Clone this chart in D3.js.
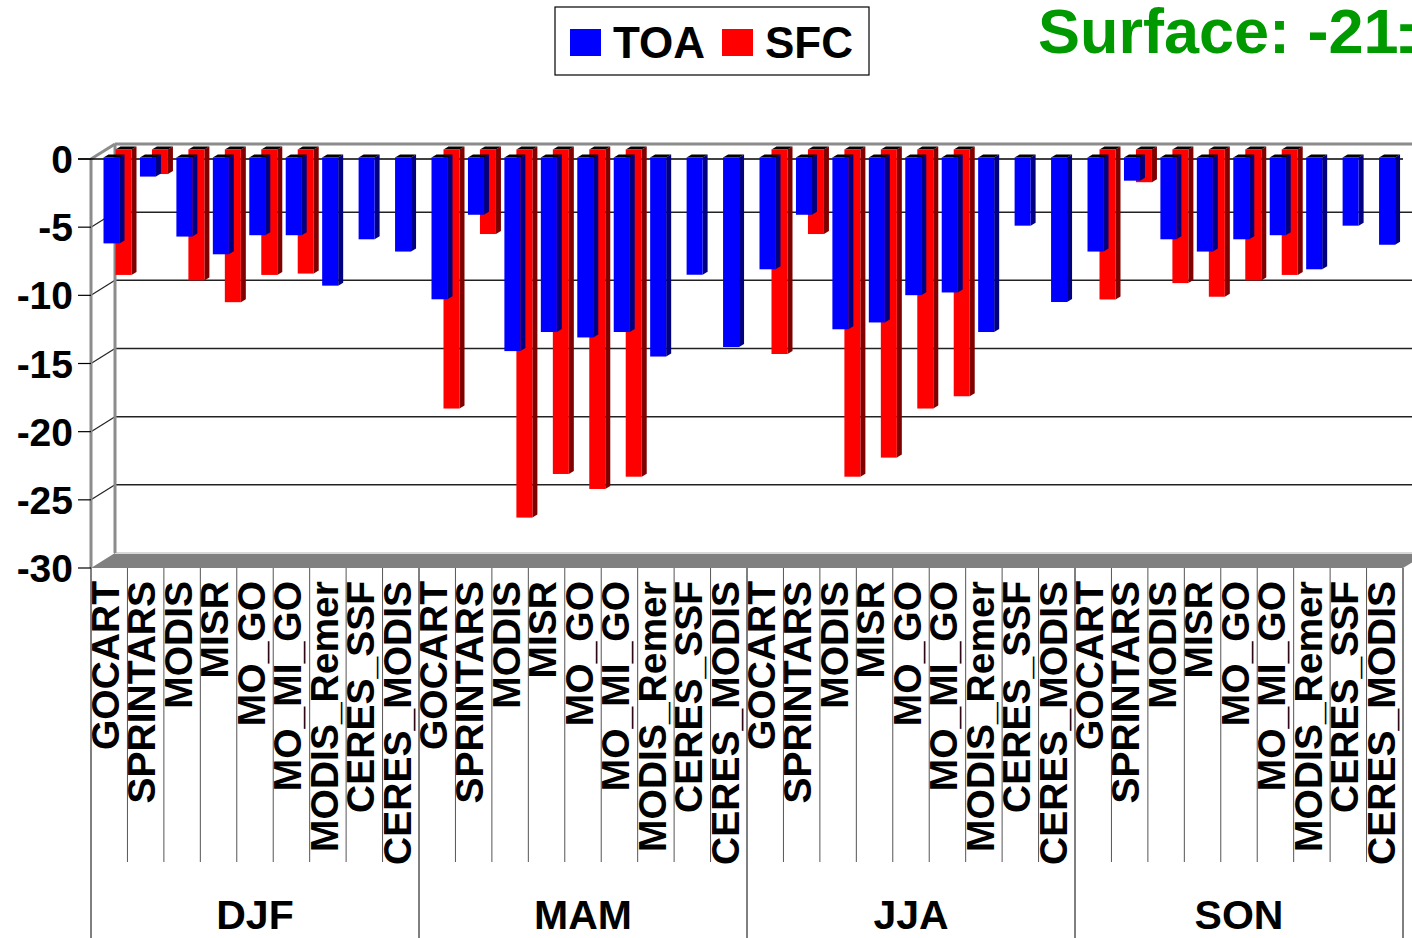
<!DOCTYPE html>
<html>
<head>
<meta charset="utf-8">
<script src="https://cdn.jsdelivr.net/npm/d3@7"></script>
<style>
  body { margin: 0; background: #fff; }
  svg { display: block; font-family: "Liberation Sans", Arial, sans-serif; font-weight: bold; }
</style>
</head>
<body>
<div id="chart"></div>
<script>
// Seasonal aerosol forcing, TOA vs SFC
const seasons = ["DJF", "MAM", "JJA", "SON"];
const models = ["GOCART", "SPRINTARS", "MODIS", "MISR", "MO_GO", "MO_MI_GO", "MODIS_Remer", "CERES_SSF", "CERES_MODIS"];
const yTicks = [0, -5, -10, -15, -20, -25, -30];

// TOA values (9 per season, DJF, MAM, JJA, SON)
const toa = [
  -6.3, -1.4, -5.8, -7.1, -5.7, -5.7, -9.4, -6.0, -6.9,
  -10.4, -4.2, -14.2, -12.8, -13.2, -12.8, -14.6, -8.6, -13.9,
  -8.2, -4.2, -12.6, -12.1, -10.1, -9.9, -12.8, -5.0, -10.6,
  -6.9, -1.7, -6.0, -6.9, -6.0, -5.7, -8.2, -5.0, -6.4
];
// SFC values (null = no surface estimate)
const sfc = [
  -9.2, -1.8, -9.6, -11.2, -9.2, -9.1, null, null, null,
  -19.0, -6.2, -27.0, -23.8, -24.9, -24.0, null, null, null,
  -15.0, -6.2, -24.0, -22.6, -19.0, -18.1, null, null, null,
  -11.0, -2.4, -9.8, -10.8, -9.6, -9.2, null, null, null
];

const W = 1412, H = 938;
const svg = d3.select("#chart").append("svg").attr("width", W).attr("height", H);

// plot geometry (front plane + depth offset for the back wall)
const x0 = 91, x1 = 1403;
const yTop = 159, yBot = 568;
const depthX = 24, depthY = -15;

const keys = [];
seasons.forEach(s => models.forEach(m => keys.push(s + "|" + m)));

const x = d3.scaleBand().domain(keys).range([x0, x1]).padding(0);
const y = d3.scaleLinear().domain([0, -30]).range([yTop, yBot]);

// floor
svg.append("polygon")
  .attr("points", [[x0, yBot], [x1, yBot], [x1 + depthX, yBot + depthY], [x0 + depthX, yBot + depthY]].join(" "))
  .attr("fill", "#808080");
svg.append("line")
  .attr("x1", x0 + depthX).attr("x2", W).attr("y1", yBot + depthY).attr("y2", yBot + depthY)
  .attr("stroke", "#d8d8d8").attr("stroke-width", 2);

// back wall gridlines and left-wall diagonals
yTicks.forEach(t => {
  const yf = y(t), yb = y(t) + depthY;
  if (t !== 0 && t !== -30) {
    svg.append("line")
      .attr("x1", x0 + depthX).attr("x2", W).attr("y1", yb).attr("y2", yb)
      .attr("stroke", "#222").attr("stroke-width", 1.5);
    svg.append("line")
      .attr("x1", x0).attr("x2", x0 + depthX).attr("y1", yf).attr("y2", yb)
      .attr("stroke", "#222").attr("stroke-width", 1.2);
  }
});
// back wall top edge, left wall edges
svg.append("line")
  .attr("x1", x0 + depthX).attr("x2", W).attr("y1", yTop + depthY).attr("y2", yTop + depthY)
  .attr("stroke", "#8c8c8c").attr("stroke-width", 3);
svg.append("line")
  .attr("x1", x0).attr("x2", x0 + depthX).attr("y1", yTop).attr("y2", yTop + depthY)
  .attr("stroke", "#8c8c8c").attr("stroke-width", 3);
svg.append("line")
  .attr("x1", x0 + depthX).attr("x2", x0 + depthX).attr("y1", yTop + depthY).attr("y2", yBot + depthY)
  .attr("stroke", "#8c8c8c").attr("stroke-width", 3);
svg.append("line")
  .attr("x1", x0).attr("x2", x0).attr("y1", yTop).attr("y2", yBot)
  .attr("stroke", "#8c8c8c").attr("stroke-width", 3);

// zero line
svg.append("line")
  .attr("x1", 78).attr("x2", x1).attr("y1", yTop).attr("y2", yTop)
  .attr("stroke", "#000").attr("stroke-width", 1.5);

// y ticks + labels
yTicks.forEach(t => {
  svg.append("line")
    .attr("x1", 78).attr("x2", x0).attr("y1", y(t)).attr("y2", y(t))
    .attr("stroke", "#000").attr("stroke-width", 1.2);
  svg.append("text")
    .attr("x", 73).attr("y", y(t))
    .attr("dy", "0.36em")
    .attr("text-anchor", "end")
    .style("font-size", "39px")
    .text(t);
});

// 3D bars
const bw = 16, bdx = 5, bdy = -3;
function drawBars(vals, offX, baseShift, front, side) {
  const g = svg.append("g");
  vals.forEach((v, i) => {
    if (v === null) return;
    const xl = x(keys[i]) + offX;
    const yt = y(0) + baseShift;
    const yb = y(v) + baseShift;
    // side face
    g.append("polygon")
      .attr("points", [[xl + bw, yt], [xl + bw + bdx, yt + bdy], [xl + bw + bdx, yb + bdy], [xl + bw, yb]].join(" "))
      .attr("fill", side);
    // top face
    g.append("polygon")
      .attr("points", [[xl, yt], [xl + bw, yt], [xl + bw + bdx, yt + bdy], [xl + bdx, yt + bdy]].join(" "))
      .attr("fill", "#000");
    // front face
    g.append("rect")
      .attr("x", xl).attr("y", yt).attr("width", bw).attr("height", yb - yt)
      .attr("fill", front);
  });
}
drawBars(sfc, 24.5, -9.5, "#ff0000", "#800000");
drawBars(toa, 12.5, -1.5, "#0000ff", "#000080");

// category separators
keys.forEach((k, i) => {
  const xs = x(k);
  const isSeason = i % models.length === 0;
  svg.append("line")
    .attr("x1", xs).attr("x2", xs).attr("y1", yBot).attr("y2", isSeason ? H : 862)
    .attr("stroke", isSeason ? "#000" : "#555").attr("stroke-width", 1);
});
svg.append("line")
  .attr("x1", x1).attr("x2", x1).attr("y1", yBot).attr("y2", H)
  .attr("stroke", "#000").attr("stroke-width", 1);

// category labels (rotated)
keys.forEach(k => {
  const xs = x(k) + 28;
  svg.append("text")
    .attr("transform", `translate(${xs},581) rotate(-90)`)
    .attr("text-anchor", "end")
    .style("font-size", "39px")
    .text(k.split("|")[1]);
});

// season labels
seasons.forEach((s, si) => {
  const xa = x(s + "|" + models[0]);
  const xb = si < seasons.length - 1 ? x(seasons[si + 1] + "|" + models[0]) : x1;
  svg.append("text")
    .attr("x", (xa + xb) / 2).attr("y", 929)
    .attr("text-anchor", "middle")
    .style("font-size", "41px")
    .text(s);
});

// legend
const lg = svg.append("g");
lg.append("rect").attr("x", 555).attr("y", 7).attr("width", 314).attr("height", 68)
  .attr("fill", "#fff").attr("stroke", "#000").attr("stroke-width", 1.2);
lg.append("rect").attr("x", 570).attr("y", 29).attr("width", 31).attr("height", 27).attr("fill", "#0000ff");
lg.append("text").attr("x", 613).attr("y", 58).style("font-size", "44px").text("TOA");
lg.append("rect").attr("x", 722).attr("y", 29).attr("width", 31).attr("height", 27).attr("fill", "#ff0000");
lg.append("text").attr("x", 765).attr("y", 58).style("font-size", "44px").text("SFC");

// title (runs past the right edge as in the original)
svg.append("text")
  .attr("x", 1038).attr("y", 53)
  .attr("fill", "#009900")
  .style("font-size", "63px")
  .text("Surface: -21±5");
</script>
</body>
</html>
